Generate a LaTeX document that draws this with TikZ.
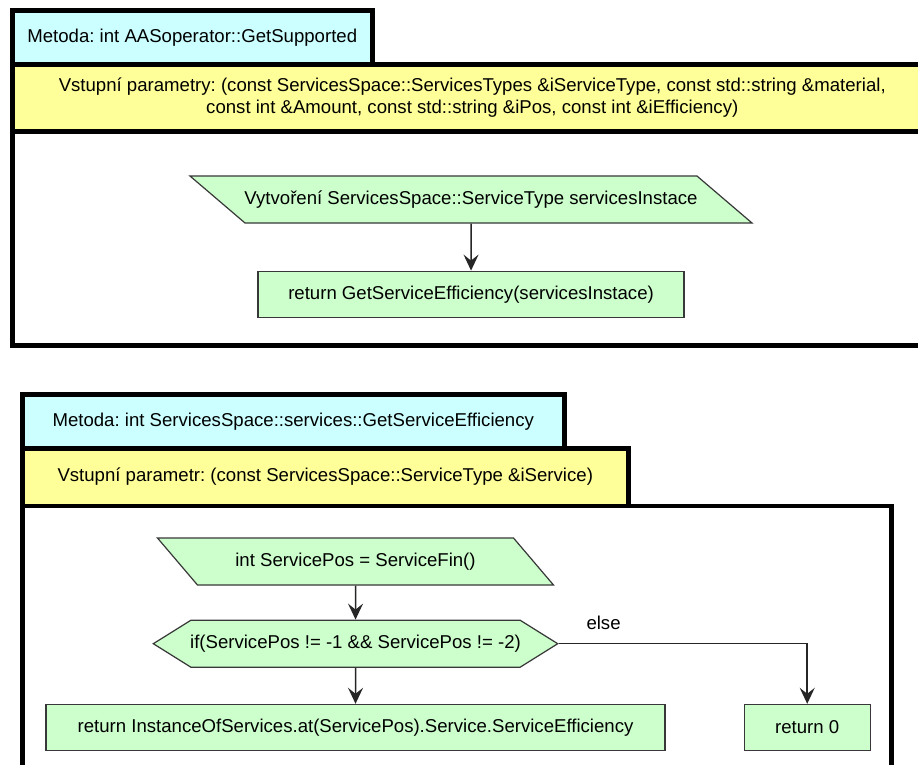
\documentclass[tikz,border=0pt]{standalone}
\usepackage{fontspec}
\setmainfont{Liberation Sans}
\frenchspacing
\usetikzlibrary{shapes.geometric, shapes.symbols, arrows.meta, positioning}
\definecolor{methodcyan}{HTML}{CCFFFF}
\definecolor{paramyellow}{HTML}{FFFF99}
\definecolor{stepgreen}{HTML}{CCFFCC}
\definecolor{edgegray}{HTML}{383838}
\tikzstyle{method} = [rectangle, anchor=north west, draw=black, line width=4.5pt, fill=methodcyan, minimum height=54pt, text centered]
\tikzstyle{params} = [rectangle, anchor=north west, draw=black, line width=4.5pt, fill=paramyellow, align=center]
\tikzstyle{body} = [rectangle, anchor=north west, draw=black, line width=4.5pt, fill=white]
\tikzstyle{io} = [trapezium, trapezium stretches body, text height=14pt, text depth=4pt, inner ysep=14.5pt, text centered, draw=edgegray, line width=1.2pt, fill=stepgreen]
\tikzstyle{process} = [rectangle, minimum height=46pt, text centered, draw=edgegray, line width=1.2pt, fill=stepgreen]
\tikzstyle{decision} = [signal, signal to=west and east, signal pointer angle=64, inner xsep=-0.8pt, minimum height=47pt, text centered, draw=edgegray, line width=1.2pt, fill=stepgreen]
\tikzstyle{arrow} = [line width=1.5pt, draw=black!85, -{Stealth[length=16pt, width=15pt, inset=6pt]}]

\begin{document}
\begin{tikzpicture}[x=1pt, y=-1pt, node distance=40pt, font=\fontsize{18.6}{22.3}\selectfont]
\path[use as bounding box, clip] (0,0) rectangle (918,764);

% Method 1 frame
\node (body1) [body, minimum width=920pt, minimum height=214pt] at (10,129) {};
\node (params1) [params, minimum width=920pt, minimum height=67pt] at (10,62) {Vstupní parametry: (const ServicesSpace::ServicesTypes \&iServiceType, const std::string \&material,\\const int \&Amount, const std::string \&iPos, const int \&iEfficiency)};
\node (method1) [method, minimum width=360pt] at (10,8) {Metoda: int AASoperator::GetSupported};

% Method 1 nodes
\node (create) [io, trapezium left angle=139.5, trapezium right angle=40.5, inner xsep=-1pt, minimum width=562pt] at (471,199.5) {Vytvoření ServicesSpace::ServiceType servicesInstace};
\node (retcall) [process, below=47pt of create, minimum width=426pt] {return GetServiceEfficiency(servicesInstace)};

\draw [arrow] (create) -- (retcall);

% Method 2 frame
\node (body2) [body, minimum width=869pt, minimum height=300pt] at (20,503.5) {};
\node (params2) [params, minimum width=606pt, minimum height=57.5pt] at (20,446) {Vstupní parametr: (const ServicesSpace::ServiceType \&iService)};
\node (method2) [method, minimum width=542pt] at (20,392) {Metoda: int ServicesSpace::services::GetServiceEfficiency};

% Method 2 nodes
\node (findpos) [io, trapezium left angle=130.4, trapezium right angle=49.6, minimum width=396pt] at (355.5,561.5) {int ServicePos = ServiceFin()};
\node (checkpos) [decision, below=34pt of findpos] {if(ServicePos != -1 \&\& ServicePos != -2)};
\node (retpos) [process, below=36pt of checkpos, minimum width=619pt] {return InstanceOfServices.at(ServicePos).Service.ServiceEfficiency};
\node (retzero) [process, right=78pt of retpos, minimum width=126pt] {return 0};

\draw [arrow] (findpos) -- (checkpos);
\draw [arrow] (checkpos) -- (retpos);
\draw [arrow] (checkpos) -| node[pos=0.09, above=10pt] {else} (retzero);

\end{tikzpicture}
\end{document}
